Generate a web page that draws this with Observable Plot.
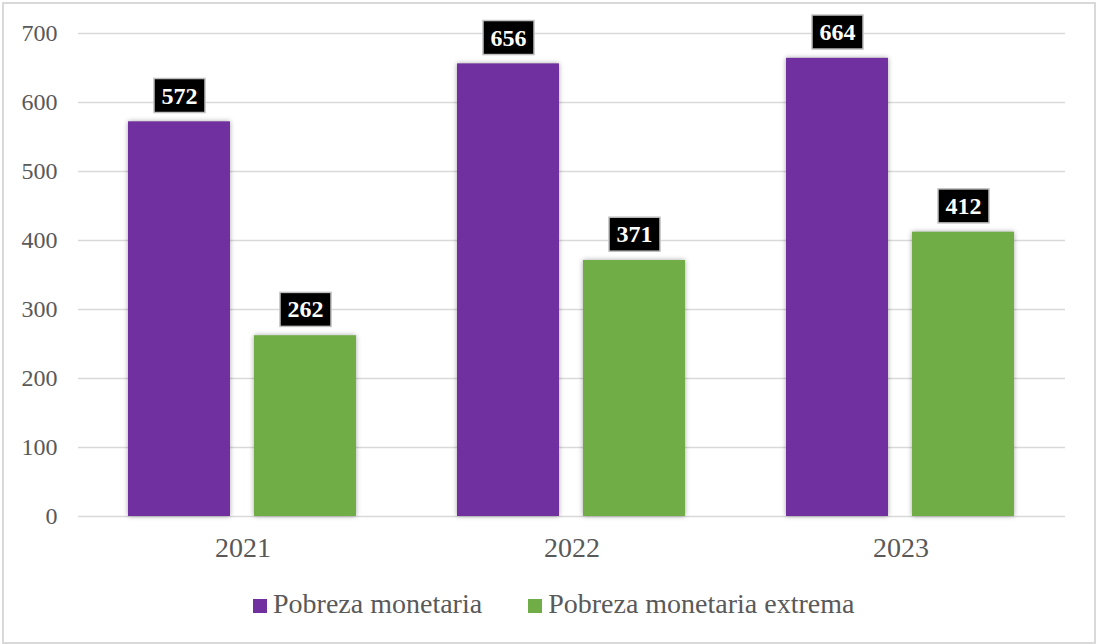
<!DOCTYPE html>
<html>
<head>
<meta charset="utf-8">
<script src="https://cdn.jsdelivr.net/npm/d3@7"></script>
<script src="https://cdn.jsdelivr.net/npm/@observablehq/plot@0.6"></script>
<style>
  html, body { margin: 0; padding: 0; background: #fff; }
  #wrap { position: relative; width: 1096px; height: 644px; overflow: hidden; font-family: "Liberation Serif", "Times New Roman", serif; }
  #frame { position: absolute; left: 2px; top: 2px; width: 1090px; height: 638px; border: 2px solid #d9d9d9; pointer-events: none; }
  #chart { position: absolute; left: 0; top: 0; }
  #chart g[aria-label="bar"] rect { filter: drop-shadow(0px 0px 2.5px rgba(0,0,0,0.35)); }
  #legend { position: absolute; left: 253px; top: 588px; display: flex; align-items: center; color: #595959; font-size: 28px; line-height: 32px; white-space: nowrap; }
  .item { display: flex; align-items: center; }
  .sw { width: 14px; height: 14px; margin-right: 6px; margin-top: 3px; }
</style>
</head>
<body>
<div id="wrap">
  <div id="chart"></div>
  <div id="legend"></div>
  <div id="frame"></div>
</div>
<script>
const years = ["2021", "2022", "2023"];
const series = ["Pobreza monetaria", "Pobreza monetaria extrema"];
const pobreza = [572, 656, 664];
const extrema = [262, 371, 412];
const colors = ["#7030A0", "#70AD47"];
const yTicks = [0, 100, 200, 300, 400, 500, 600, 700];

const table = [];
years.forEach((y, i) => {
  table.push({year: y, series: series[0], value: pobreza[i]});
  table.push({year: y, series: series[1], value: extrema[i]});
});

const font = "'Liberation Serif', 'Times New Roman', serif";

const plot = Plot.plot({
  width: 1096,
  height: 560,
  marginLeft: 77,
  marginRight: 31,
  marginTop: 33,
  marginBottom: 44,
  style: {background: "transparent", fontFamily: font, color: "#595959", overflow: "visible"},
  fx: {domain: years, padding: 0, label: null},
  x: {domain: series, paddingInner: 0.19, paddingOuter: 0.4, axis: null},
  y: {domain: [0, 700], label: null},
  color: {domain: series, range: colors},
  marks: [
    Plot.gridY(yTicks, {stroke: "#d9d9d9", strokeOpacity: 1, strokeWidth: 1.5}),
    Plot.axisY(yTicks, {tickSize: 0, tickPadding: 21, fontSize: 24, fill: "#595959", label: null}),
    Plot.axisFx({anchor: "bottom", tickSize: 0, tickPadding: 21, fontSize: 28, fill: "#595959", label: null}),
    Plot.barY(table, {fx: "year", x: "series", y: "value", fill: "series"}),
    Plot.text(table, {fx: "year", x: "series", y: "value", text: d => String(d.value), dy: -26,
      fill: "white", fontWeight: "bold", fontSize: 24, fontFamily: font})
  ]
});

document.getElementById("chart").appendChild(plot);

// black label boxes behind the value texts
const svgNS = "http://www.w3.org/2000/svg";
plot.querySelectorAll('g[aria-label="text"] text').forEach(t => {
  const b = t.getBBox();
  const r = document.createElementNS(svgNS, "rect");
  const px = 7.5, py = 4;
  r.setAttribute("x", b.x - px);
  r.setAttribute("y", b.y - py);
  r.setAttribute("width", b.width + 2 * px);
  r.setAttribute("height", b.height + 2 * py);
  r.setAttribute("fill", "#000");
  r.setAttribute("stroke", "#bfbfbf");
  r.setAttribute("stroke-width", 1.5);
  if (t.getAttribute("transform")) r.setAttribute("transform", t.getAttribute("transform"));
  t.parentNode.insertBefore(r, t);
});

// legend
const legend = document.getElementById("legend");
series.forEach((s, i) => {
  const it = document.createElement("div");
  it.className = "item";
  if (i > 0) it.style.marginLeft = "46px";
  const sw = document.createElement("div");
  sw.className = "sw";
  sw.style.background = colors[i];
  const tx = document.createElement("span");
  tx.textContent = s;
  it.appendChild(sw);
  it.appendChild(tx);
  legend.appendChild(it);
});
</script>
</body>
</html>
